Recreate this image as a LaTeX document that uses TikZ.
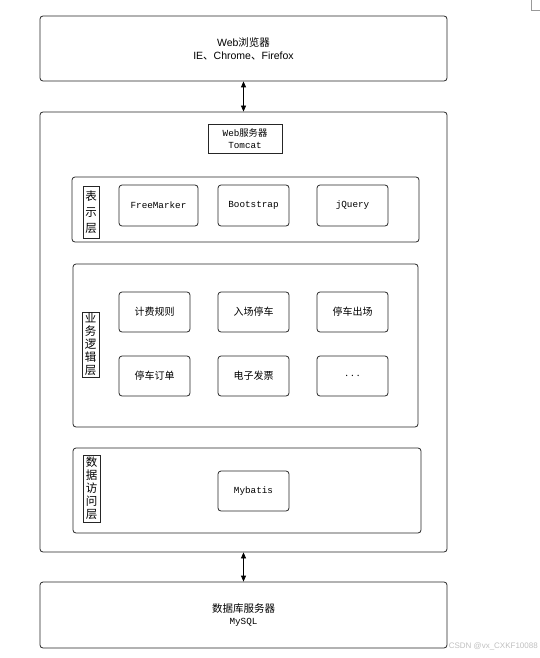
\documentclass[tikz,border=0pt]{standalone}
\usepackage{fontspec}
\setmainfont{Liberation Sans}
\newfontfamily\cjk{Noto Sans CJK SC}
\newfontfamily\monof{Liberation Mono}
\usetikzlibrary{arrows.meta}
\begin{document}
\begin{tikzpicture}[x=1pt,y=-1pt,
  box/.style={draw=black!85,line width=0.8pt,rounded corners=3pt,inner sep=0pt,align=center},
  sbox/.style={draw=black!85,line width=0.8pt,inner sep=0pt,align=center},
  cn/.style={font=\cjk\fontsize{10}{12}\selectfont},
  mn/.style={font=\monof\fontsize{9.3}{11}\selectfont},
  vlab/.style={sbox,font=\cjk\fontsize{11.5}{13}\selectfont},
  link/.style={line width=0.8pt,{Triangle[length=6pt,width=5pt]}-{Triangle[length=6pt,width=5pt]}}]
\useasboundingbox (0,0) rectangle (540,658);
% top-right crop mark
\draw[black!40,line width=0.6pt] (531,0) -- (531,10) -- (540,10);
% browser
\node[box,minimum width=407pt,minimum height=65pt,font=\fontsize{10.5}{13}\selectfont] (browser) at (243.5,48.5)
  {Web{\cjk 浏览器}\\IE{\cjk 、}Chrome{\cjk 、}Firefox};
% web server outer
\node[box,minimum width=407pt,minimum height=440pt] (server) at (243.5,332) {};
\node[sbox,minimum width=74pt,minimum height=29pt,font=\monof\fontsize{9.3}{12}\selectfont] (tomcat) at (245,138.5)
  {Web{\cjk 服务器}\\Tomcat};
% presentation layer
\node[box,minimum width=347pt,minimum height=65pt] (pres) at (245.5,209.5) {};
\node[vlab,minimum width=16pt,minimum height=52pt,font=\cjk\fontsize{11.5}{16}\selectfont] (preslab) at (91,212) {表\\示\\层};
\node[box,mn,minimum width=79pt,minimum height=41pt] (fm) at (158.5,205.5) {FreeMarker};
\node[box,mn,minimum width=71pt,minimum height=41pt] (bs) at (253.5,205.5) {Bootstrap};
\node[box,mn,minimum width=71pt,minimum height=41pt] (jq) at (352.5,205.5) {jQuery};
% business layer
\node[box,minimum width=345pt,minimum height=163pt] (biz) at (245.5,345.5) {};
\node[vlab,minimum width=17pt,minimum height=65pt] (bizlab) at (90.5,344.5) {业\\务\\逻\\辑\\层};
\node[box,cn,minimum width=71pt,minimum height=40pt] (b1) at (154.5,312) {计费规则};
\node[box,cn,minimum width=71pt,minimum height=40pt] (b2) at (253.5,312) {入场停车};
\node[box,cn,minimum width=71pt,minimum height=40pt] (b3) at (352.5,312) {停车出场};
\node[box,cn,minimum width=71pt,minimum height=40pt] (b4) at (154.5,376) {停车订单};
\node[box,cn,minimum width=71pt,minimum height=40pt] (b5) at (253.5,376) {电子发票};
\node[box,cn,minimum width=71pt,minimum height=40pt] (b6) at (352.5,376) {. . .};
% data access layer
\node[box,minimum width=348pt,minimum height=85pt] (data) at (247,490.5) {};
\node[vlab,minimum width=17pt,minimum height=67pt] (datalab) at (91.5,488.5) {数\\据\\访\\问\\层};
\node[box,mn,minimum width=71pt,minimum height=40pt] (mb) at (253.5,491) {Mybatis};
% database server
\node[box,minimum width=407pt,minimum height=66pt] (db) at (243.5,615)
  {{\cjk\fontsize{10.5}{13}\selectfont 数据库服务器}\\{\monof\fontsize{9.3}{11}\selectfont MySQL}};
% connectors
\draw[link] (browser) -- (server);
\draw[link] (server) -- (db);
% watermark
\node[anchor=east,inner sep=0pt,text=black!25,font=\fontsize{8}{9}\selectfont] (wm) at (538,646) {CSDN @vx\_CXKF10088};
\end{tikzpicture}
\end{document}
